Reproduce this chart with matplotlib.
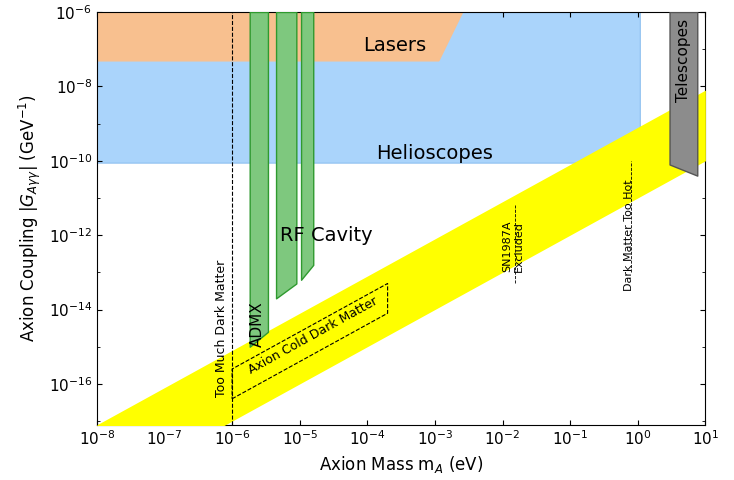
import numpy as np
import matplotlib
matplotlib.use("Agg")
import matplotlib.pyplot as plt

# --- data (log10 values) ---
laser_x = [-8, -2.95, -2.6]          # log10 mass
laser_low = -7.3
helio_x = [-8, -0.6, -0.5, -0.4, -0.3, -0.25, -0.2, -0.1, 0.0, 0.03]
helio_low = [-10.05, -10.05, -9.85, -9.8, -9.8, -10.0, -9.8, -9.8, -9.9, -9.6]
tele_x = [0.47, 0.88]
tele_low = [-10.1, -10.4]
admx_x0 = [-5.74, -5.35, -4.98]
admx_x1 = [-5.47, -5.05, -4.80]
admx_low = [-15.0, -13.7, -13.2]
band_hi_off = -9.1     # log10 g = log10 m + off
band_lo_off = -11.0
cdm_range = [-6.0, -3.7]
sn_x, dmhot_x, toomuch_x = -1.82, -0.1, -6.0

fig = plt.figure(figsize=(7.34, 4.80), dpi=100)
ax = fig.add_axes([0.132, 0.115, 0.829, 0.86])
ax.set_xlim(-8, 1); ax.set_ylim(-17.1, -6)

ax.fill_between(helio_x, helio_low, -6, color="#aad4fb", edgecolor="#8ec0f0", lw=0.8, zorder=1)
ax.fill_between(laser_x, [laser_low, laser_low, -6], -6, color="#f8c08f", zorder=2)
xs = np.array([-8, 1])
ax.fill_between(xs, xs + band_lo_off, xs + band_hi_off, color="#ffff00", lw=0, zorder=3)
ax.fill_between(tele_x, tele_low, -6, color="#8c8c8c", edgecolor="#555", zorder=4)
for a, b, lo in zip(admx_x0, admx_x1, admx_low):
    ax.fill_between([a, b], [lo, lo + 0.4], -6, color="#7ec87e", edgecolor="#2f9a2f", lw=1, zorder=5)

ax.plot([toomuch_x]*2, [-17.1, -6], "k--", lw=0.8, zorder=6)
ax.plot([sn_x]*2, [-13.3, -11.2], "k--", lw=0.6, zorder=6)
ax.plot([dmhot_x]*2, [-13.0, -10.0], "k--", lw=0.6, zorder=6)
a, b = cdm_range
lo_o, hi_o = band_lo_off + 0.6, band_hi_off - 0.5
ax.plot([a, b, b, a, a], [a + lo_o, b + lo_o, b + hi_o, a + hi_o, a + lo_o], "k--", lw=0.8, zorder=6)

ax.text(-3.6, -6.9, "Lasers", fontsize=14, ha="center", va="center", zorder=7)
ax.text(-3.0, -9.8, "Helioscopes", fontsize=14, ha="center", va="center", zorder=7)
ax.text(-4.6, -12.0, "RF Cavity", fontsize=14, ha="center", va="center", zorder=7)
ax.text(-5.62, -14.4, "ADMX", fontsize=11, rotation=90, ha="center", va="center", zorder=7)
ax.text(0.68, -7.3, "Telescopes", fontsize=11, rotation=90, ha="center", va="center", zorder=7)
ax.text(-6.15, -14.5, "Too Much Dark Matter", fontsize=9, rotation=90, ha="center", va="center", zorder=7)
ax.text(-4.8, -14.7, "Axion Cold Dark Matter", fontsize=9, rotation=29, ha="center", va="center", zorder=7)
ax.text(-1.85, -12.3, "SN1987A\nExcluded", fontsize=8, rotation=90, ha="center", va="center", zorder=7)
ax.text(-0.13, -12.0, "Dark Matter Too Hot", fontsize=8, rotation=90, ha="center", va="center", zorder=7)

ax.set_xticks(range(-8, 2))
ax.set_xticklabels([f"$10^{{{i}}}$" for i in range(-8, 2)], fontsize=11)
ax.set_yticks(range(-16, -5, 2))
ax.set_yticklabels([f"$10^{{{i}}}$" for i in range(-16, -5, 2)], fontsize=11)
ax.set_yticks(range(-17, -5), minor=True)
ax.tick_params(direction="in", top=True, right=True, which="both")
ax.set_xlabel("Axion Mass m$_A$ (eV)", fontsize=12)
ax.set_ylabel(r"Axion Coupling $|G_{A\gamma\gamma}|$ (GeV$^{-1}$)", fontsize=12)
fig.savefig("out.png", dpi=100)
